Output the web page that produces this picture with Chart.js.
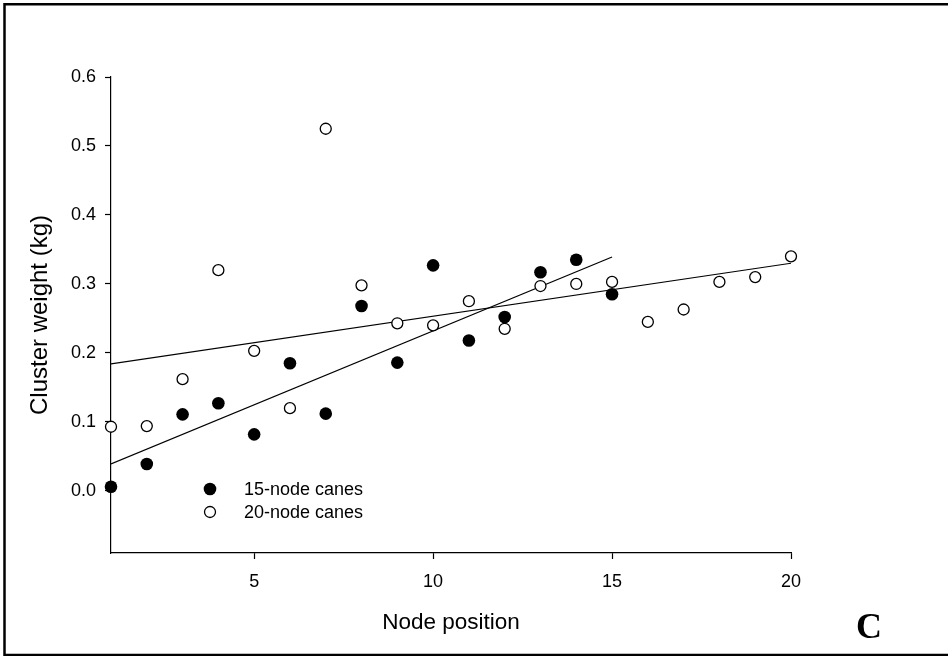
<!DOCTYPE html>
<html>
<head>
<meta charset="utf-8">
<script src="https://cdn.jsdelivr.net/npm/chart.js@4.4.0/dist/chart.umd.min.js"></script>
<style>
  body { margin: 0; background: #fff; }
  #wrap { width: 948px; height: 656px; }
</style>
</head>
<body>
<div id="wrap"><canvas id="Chart" width="948" height="656"></canvas></div>
<script>
const nodes15 = [1,2,3,4,5,6,7,8,9,10,11,12,13,14,15];
const weight15 = [0.006,0.039,0.111,0.127,0.082,0.185,0.112,0.268,0.186,0.327,0.218,0.252,0.317,0.335,0.285];
const nodes20 = [1,2,3,4,5,6,7,8,9,10,11,12,13,14,15,16,17,18,19,20];
const weight20 = [0.093,0.094,0.162,0.320,0.203,0.120,0.525,0.298,0.243,0.240,0.275,0.235,0.297,0.300,0.303,0.245,0.263,0.303,0.310,0.340];
// fitted lines, end points
const fit15X = [1, 15];
const fit15Y = [0.039, 0.339];
const fit20X = [1, 20];
const fit20Y = [0.184, 0.330];
const xTicks = [5, 10, 15, 20];
const yTicks = [0, 0.1, 0.2, 0.3, 0.4, 0.5, 0.6];
const legendLabels = ["15-node canes", "20-node canes"];

const font = "'Liberation Sans', Arial, sans-serif";
const pts = (xs, ys) => xs.map((x, i) => ({x: x, y: ys[i]}));

// frame, legend and panel letter
const extras = {
  id: "extras",
  afterDraw(chart) {
    const ctx = chart.ctx;
    const a = chart.chartArea;
    ctx.save();
    ctx.strokeStyle = "#000";
    ctx.lineWidth = 2.5;
    ctx.beginPath();
    ctx.moveTo(4.5, 656); ctx.lineTo(4.5, 4.2); ctx.lineTo(948, 4.2);
    ctx.moveTo(4.5, 655); ctx.lineTo(948, 655);
    ctx.stroke();

    // legend
    ctx.font = "18px " + font;
    ctx.textBaseline = "middle";
    ctx.fillStyle = "#000";
    const lx = a.left + 99, ly = a.top + 412;
    ctx.beginPath(); ctx.arc(lx, ly, 6.3, 0, Math.PI * 2); ctx.fill();
    ctx.beginPath(); ctx.arc(lx, ly + 23, 5.5, 0, Math.PI * 2);
    ctx.fillStyle = "#fff"; ctx.fill();
    ctx.lineWidth = 1.3; ctx.stroke();
    ctx.fillStyle = "#000";
    ctx.fillText(legendLabels[0], lx + 34, ly + 1);
    ctx.fillText(legendLabels[1], lx + 34, ly + 24);

    ctx.font = "bold 36px 'Liberation Serif', 'Times New Roman', serif";
    ctx.textAlign = "center";
    ctx.fillText("C", 869, 629);
    ctx.restore();
  }
};

new Chart("Chart", {
  type: "scatter",
  data: {
    datasets: [{
      data: pts(nodes15, weight15),
      backgroundColor: "#000",
      borderColor: "#000",
      pointRadius: 6.3,
      pointBorderWidth: 0,
      clip: false,
      order: 0
    }, {
      data: pts(nodes20, weight20),
      backgroundColor: "#fff",
      borderColor: "#000",
      pointRadius: 5.5,
      pointBorderWidth: 1.3,
      clip: false,
      order: 0
    }, {
      type: "line",
      data: pts(fit15X, fit15Y),
      borderColor: "#000",
      borderWidth: 1.2,
      pointRadius: 0,
      fill: false,
      order: 1
    }, {
      type: "line",
      data: pts(fit20X, fit20Y),
      borderColor: "#000",
      borderWidth: 1.2,
      pointRadius: 0,
      fill: false,
      order: 1
    }]
  },
  options: {
    responsive: false,
    animation: false,
    layout: { padding: { left: 0, top: 77, right: 157, bottom: 0 } },
    plugins: { legend: { display: false }, tooltip: { enabled: false } },
    scales: {
      x: {
        type: "linear",
        min: 1, max: 20,
        afterBuildTicks: s => { s.ticks = xTicks.map(v => ({value: v})); },
        afterFit: s => { s.height = 103; },
        border: { display: true, color: "#000", width: 1.2 },
        grid: { drawOnChartArea: false, drawTicks: true, tickLength: 6, tickColor: "#000", tickWidth: 1.2 },
        ticks: { color: "#000", font: { family: font, size: 18 }, padding: 12, maxRotation: 0 },
        title: { display: true, text: "Node position", color: "#000",
                 font: { family: font, size: 22.5 }, padding: { top: 0, bottom: 20 } }
      },
      y: {
        min: -0.09, max: 0.6,
        afterBuildTicks: s => { s.ticks = yTicks.map(v => ({value: v})); },
        afterFit: s => { s.width = 111; },
        border: { display: true, color: "#000", width: 1.2 },
        grid: { drawOnChartArea: false, drawTicks: true, tickLength: 6, tickColor: "#000", tickWidth: 1.2 },
        ticks: { color: "#000", font: { family: font, size: 18 }, padding: 9,
                 callback: v => v.toFixed(1) },
        title: { display: true, text: "Cluster weight (kg)", color: "#000",
                 font: { family: font, size: 24 }, padding: { top: 26, bottom: 0 } }
      }
    }
  },
  plugins: [extras]
});
</script>
</body>
</html>
